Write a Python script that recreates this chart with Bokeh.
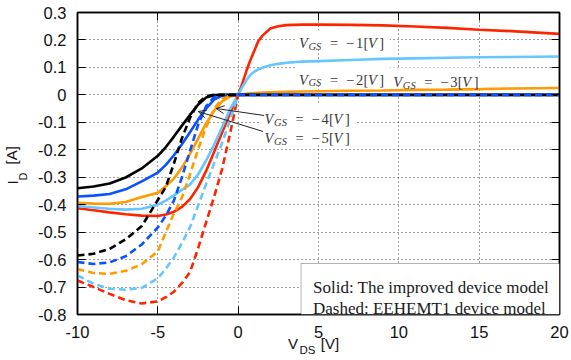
from bokeh.plotting import figure
from bokeh.models import Range1d, LinearAxis, FixedTicker, Label, Arrow, OpenHead, BoxAnnotation
from bokeh.embed import file_html
from bokeh.resources import INLINE

# ---------------------------------------------------------------- data
# Drain-source voltage samples [V]
vds_neg = [-10, -9, -8, -7, -6, -5, -4.5, -4, -3.5, -3, -2.5, -2, -1.5, -1, -0.5, 0]
vds_pos = [0, 0.25, 0.5, 0.75, 1, 1.25, 1.5, 2, 2.5, 3, 4, 5, 7, 9, 11, 13, 15, 17, 20]

# Improved device model (solid), drain current [A] for Vds <= 0
imp_neg_m1 = [-0.413, -0.420, -0.428, -0.435, -0.440, -0.441, -0.436, -0.426, -0.408, -0.380, -0.337, -0.278, -0.208, -0.137, -0.067, 0]
imp_neg_m2 = [-0.405, -0.410, -0.415, -0.418, -0.415, -0.400, -0.385, -0.366, -0.346, -0.327, -0.290, -0.240, -0.182, -0.118, -0.052, 0]
imp_neg_m3 = [-0.393, -0.396, -0.397, -0.390, -0.372, -0.357, -0.333, -0.305, -0.265, -0.215, -0.160, -0.105, -0.058, -0.024, -0.006, 0]
imp_neg_m4 = [-0.370, -0.367, -0.361, -0.344, -0.315, -0.283, -0.255, -0.220, -0.180, -0.136, -0.091, -0.050, -0.017, -0.003, 0, 0]
imp_neg_m5 = [-0.340, -0.334, -0.323, -0.301, -0.268, -0.222, -0.190, -0.152, -0.112, -0.073, -0.036, -0.010, -0.001, 0, 0, 0]

# Improved device model (solid), drain current [A] for Vds >= 0
imp_pos_m1 = [0, 0.040, 0.085, 0.125, 0.160, 0.195, 0.215, 0.242, 0.250, 0.254, 0.256, 0.256, 0.255, 0.253, 0.249, 0.244, 0.237, 0.232, 0.222]
imp_pos_m2 = [0, 0.028, 0.052, 0.072, 0.084, 0.093, 0.099, 0.108, 0.113, 0.117, 0.121, 0.123, 0.127, 0.131, 0.133, 0.135, 0.137, 0.138, 0.140]
imp_pos_m3 = [0, 0.002, 0.004, 0.006, 0.007, 0.0075, 0.008, 0.009, 0.010, 0.011, 0.012, 0.013, 0.015, 0.016, 0.018, 0.019, 0.021, 0.023, 0.025]
imp_pos_m4 = [0] * len(vds_pos)
imp_pos_m5 = [0] * len(vds_pos)

# EEHEMT1 device model (dashed), drain current [A] for Vds <= 0
ee_neg_m1 = [-0.676, -0.700, -0.725, -0.748, -0.760, -0.752, -0.737, -0.717, -0.686, -0.646, -0.560, -0.465, -0.372, -0.270, -0.140, 0]
ee_neg_m2 = [-0.658, -0.688, -0.706, -0.710, -0.703, -0.668, -0.633, -0.592, -0.540, -0.482, -0.405, -0.325, -0.250, -0.175, -0.090, 0]
ee_neg_m3 = [-0.634, -0.649, -0.652, -0.641, -0.617, -0.570, -0.500, -0.432, -0.373, -0.290, -0.200, -0.118, -0.052, -0.014, -0.002, 0]
ee_neg_m4 = [-0.609, -0.616, -0.610, -0.588, -0.545, -0.483, -0.440, -0.385, -0.300, -0.205, -0.110, -0.042, -0.008, 0, 0, 0]
ee_neg_m5 = [-0.585, -0.579, -0.561, -0.526, -0.478, -0.383, -0.335, -0.250, -0.158, -0.084, -0.030, -0.005, 0, 0, 0, 0]
# EEHEMT1 Vgs = -4 V stays at zero for Vds >= 0
ee_pos_m4 = [0] * len(vds_pos)

x_ticks = [-10, -5, 0, 5, 10, 15, 20]
x_tick_labels = ["-10", "-5", "0", "5", "10", "15", "20"]
y_ticks = [-0.8, -0.7, -0.6, -0.5, -0.4, -0.3, -0.2, -0.1, 0, 0.1, 0.2, 0.3]
y_tick_labels = ["-0.8", "-0.7", "-0.6", "-0.5", "-0.4", "-0.3", "-0.2", "-0.1", "0", "0.1", "0.2", "0.3"]

vgs_names = ["\u22121", "\u22122", "\u22123", "\u22124", "\u22125"]
legend_lines = ["Solid: The improved device model", "Dashed: EEHEMT1 device model"]

# ---------------------------------------------------------------- styling
C_M1, C_M2, C_M3, C_M4, C_M5 = "#ff2400", "#66c6ff", "#ff9a00", "#0a52ff", "#000000"
LW = 2.6
DASH = "7 4"
TXT = "#3a3a3a"
INK = "#111111"
SANS = "Liberation Sans"

W, H = 571, 360
L, R, T, B = 76, 559, 12, 314
X0, X1, Y0, Y1 = -10, 20, -0.8, 0.3


def dx(px):
    return X0 + (px - L) * (X1 - X0) / (R - L)


def dy(py):
    return Y1 - (py - T) * (Y1 - Y0) / (B - T)


p = figure(width=W, height=H, x_range=Range1d(X0, X1), y_range=Range1d(Y0, Y1),
           output_backend="svg", toolbar_location=None,
           min_border_left=L, min_border_right=W - R, min_border_top=T, min_border_bottom=H - B,
           background_fill_color="white", border_fill_color="white")

p.outline_line_color = "black"
p.outline_line_width = 1.5

for ax, ticks, labels in ((p.xaxis[0], x_ticks, x_tick_labels), (p.yaxis[0], y_ticks, y_tick_labels)):
    ax.ticker = FixedTicker(ticks=ticks)
    ax.major_label_overrides = dict(zip(ticks, labels))
    ax.major_label_text_font = SANS
    ax.major_label_text_font_size = "16.5px"
    ax.major_label_text_color = INK
    ax.major_tick_in = 8
    ax.major_tick_out = 0
    ax.minor_tick_in = 0
    ax.minor_tick_out = 0
    ax.axis_line_width = 1.5
    ax.major_label_standoff = 11

# mirrored tick marks on top and right (no labels)
for loc, ticks in (("above", x_ticks), ("right", y_ticks)):
    m = LinearAxis(ticker=FixedTicker(ticks=ticks), major_label_text_color=None,
                   major_label_text_font_size="1px", major_label_standoff=0,
                   major_tick_in=8, major_tick_out=0, minor_tick_in=0, minor_tick_out=0,
                   axis_line_width=1.5)
    p.add_layout(m, loc)

p.xgrid.ticker = FixedTicker(ticks=x_ticks)
p.ygrid.ticker = FixedTicker(ticks=y_ticks)
for g in (p.xgrid, p.ygrid):
    g.grid_line_color = "black"
    g.grid_line_alpha = 0.75
    g.grid_line_dash = "1 3"
    g.grid_line_width = 1


# axis titles with subscripts: each part is a label-only axis stacked outside the primary one
def title_axis(side, positions, texts, size, standoff, vertical=False):
    ax = LinearAxis(ticker=FixedTicker(ticks=positions),
                    major_label_overrides=dict(zip(positions, texts)),
                    major_label_text_font=SANS, major_label_text_font_size=size,
                    major_label_text_color=INK, major_label_standoff=standoff,
                    major_tick_in=0, major_tick_out=0, minor_tick_in=0, minor_tick_out=0,
                    axis_line_color=None, major_tick_line_color=None, minor_tick_line_color=None)
    if vertical:
        ax.major_label_orientation = "vertical"
    p.add_layout(ax, side)


title_axis("below", [dx(292), dx(329)], ["V", "[V]"], "15px", -6)
title_axis("below", [dx(306.5)], ["DS"], "11.5px", -11)
title_axis("left", [dy(176)], ["D"], "10.5px", 7, vertical=True)
title_axis("left", [dy(182), dy(154.8)], ["I", "[A]"], "15px", -7, vertical=True)

# ---------------------------------------------------------------- curves
solid = [(imp_neg_m1, imp_pos_m1, C_M1), (imp_neg_m2, imp_pos_m2, C_M2),
         (imp_neg_m3, imp_pos_m3, C_M3), (imp_neg_m4, imp_pos_m4, C_M4),
         (imp_neg_m5, imp_pos_m5, C_M5)]
for yneg, ypos, c in solid:
    p.line(vds_neg, yneg, line_color=c, line_width=LW)
    p.line(vds_pos, ypos, line_color=c, line_width=LW)

dashed = [(ee_neg_m1, C_M1), (ee_neg_m2, C_M2), (ee_neg_m3, C_M3), (ee_neg_m4, C_M4), (ee_neg_m5, C_M5)]
for yneg, c in dashed:
    p.line(vds_neg, yneg, line_color=c, line_width=LW, line_dash=DASH)
p.line(vds_pos, ee_pos_m4, line_color=C_M4, line_width=LW, line_dash=DASH)

# ---------------------------------------------------------------- annotations
# white boxes behind the Vgs labels: (left, top, right, bottom) in px
vgs_boxes = [(294, 30, 389, 49), (294, 63, 389, 84), (389, 67, 483, 87), (259, 103, 356, 123), (259, 124, 356, 143)]
# label anchors (left of V, baseline) in px
vgs_anchor = [(298, 42.7), (298, 79), (392.5, 81.7), (263.5, 118.3), (263.5, 137.3)]

for (l, t, r, b) in vgs_boxes:
    p.add_layout(BoxAnnotation(left=dx(l), right=dx(r), top=dy(t), bottom=dy(b),
                               fill_color="white", fill_alpha=1.0, line_color=None))

arrows = [((263, 115), (215, 108)), ((262, 131), (197, 111))]
for (xs, ys), (xe, ye) in arrows:
    p.add_layout(Arrow(end=OpenHead(size=8, line_width=1, line_color="#222222"),
                       x_start=dx(xs), y_start=dy(ys), x_end=dx(xe), y_end=dy(ye),
                       line_width=1, line_color="#222222"))


def txt(px, py, s, size, style="normal", font="Liberation Serif", color=TXT):
    p.add_layout(Label(x=dx(px), y=dy(py), text=s, text_font=font, text_font_style=style,
                       text_font_size=size, text_color=color, text_align="left",
                       text_baseline="alphabetic"))


FS = "14.5px"
for (ax0, by), name in zip(vgs_anchor, vgs_names):
    txt(ax0, by, "V", FS, "italic")
    txt(ax0 + 9.5, by + 3.2, "GS", "10.5px", "italic")
    txt(ax0 + 31, by, "=", FS)
    txt(ax0 + 47, by, name[0], FS)
    txt(ax0 + 57, by, name[1:], FS)
    txt(ax0 + 64.5, by, "[", FS)
    txt(ax0 + 69, by, "V", FS, "italic")
    txt(ax0 + 80.5, by, "]", FS)

# legend key box
p.add_layout(BoxAnnotation(left=dx(300), right=X1, top=dy(263), bottom=Y0,
                           fill_color="white", fill_alpha=1.0, line_color="black", line_width=1))
txt(312, 286.7, legend_lines[0], "17px", color="#1a1a1a")
txt(312, 308, legend_lines[1], "17px", color="#1a1a1a")

open("out.html", "w").write(file_html(p, INLINE))
